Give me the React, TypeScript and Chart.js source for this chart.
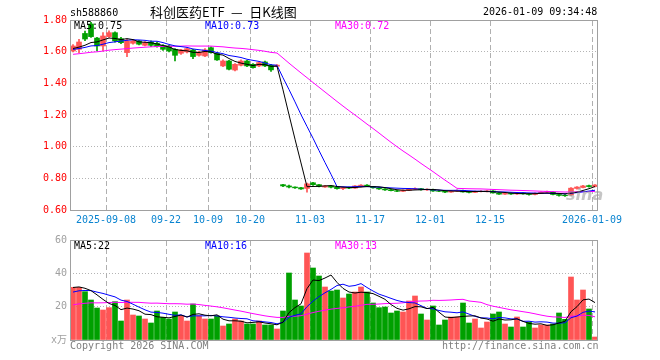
import { useEffect, useRef } from 'react';
import { Chart, registerables } from 'chart.js';
Chart.register(...registerables);

// ---------- data ----------
const dates = [
  '2025-08-29',
  '2025-09-01','2025-09-02','2025-09-03','2025-09-04','2025-09-05',
  '2025-09-08','2025-09-09','2025-09-10','2025-09-11','2025-09-12',
  '2025-09-15','2025-09-16','2025-09-17','2025-09-18','2025-09-19',
  '2025-09-22','2025-09-23','2025-09-24','2025-09-25','2025-09-26',
  '2025-09-29','2025-09-30',
  '2025-10-09','2025-10-10',
  '2025-10-13','2025-10-14','2025-10-15','2025-10-16','2025-10-17',
  '2025-10-20','2025-10-21','2025-10-22','2025-10-23','2025-10-24',
  '2025-10-27','2025-10-28','2025-10-29','2025-10-30','2025-10-31',
  '2025-11-03','2025-11-04','2025-11-05','2025-11-06','2025-11-07',
  '2025-11-10','2025-11-11','2025-11-12','2025-11-13','2025-11-14',
  '2025-11-17','2025-11-18','2025-11-19','2025-11-20','2025-11-21',
  '2025-11-24','2025-11-25','2025-11-26','2025-11-27','2025-11-28',
  '2025-12-01','2025-12-02','2025-12-03','2025-12-04','2025-12-05',
  '2025-12-08','2025-12-09','2025-12-10','2025-12-11','2025-12-12',
  '2025-12-15','2025-12-16','2025-12-17','2025-12-18','2025-12-19',
  '2025-12-22','2025-12-23','2025-12-24','2025-12-25','2025-12-26',
  '2025-12-29','2025-12-30','2025-12-31',
  '2026-01-05','2026-01-06','2026-01-07','2026-01-08','2026-01-09',
];

const tickDates = ['2025-09-08','2025-09-22','2025-10-09','2025-10-20','2025-11-03','2025-11-17','2025-12-01','2025-12-15','2026-01-09'];
const tickTexts = ['2025-09-08','09-22','10-09','10-20','11-03','11-17','12-01','12-15','2026-01-09'];

const openP = [
  1.604,1.615,1.715,1.775,1.686,1.636,1.695,1.720,1.682,1.594,
  1.653,1.668,1.640,1.661,1.653,1.640,1.636,1.615,1.590,1.598,
  1.611,1.577,1.573,1.625,1.590,1.510,1.541,1.484,1.514,1.541,
  1.520,1.510,1.535,1.514,1.508,
  0.760,0.752,0.745,0.741,0.736,0.772,0.760,0.745,0.752,0.744,
  0.735,0.742,0.738,0.750,0.757,0.748,0.740,0.733,0.728,0.722,
  0.718,0.724,0.730,0.735,0.727,0.730,0.720,0.718,0.713,0.719,
  0.724,0.714,0.711,0.716,0.718,0.720,0.708,0.700,0.705,0.701,
  0.708,0.702,0.698,0.705,0.711,0.712,0.698,0.693,0.695,0.736,
  0.742,0.754,0.748,
];
const highP = [
  1.645,1.678,1.730,1.785,1.690,1.720,1.731,1.725,1.690,1.678,
  1.675,1.672,1.663,1.668,1.660,1.645,1.640,1.620,1.615,1.625,
  1.615,1.602,1.620,1.630,1.594,1.548,1.545,1.525,1.548,1.545,
  1.525,1.535,1.540,1.520,1.518,
  0.762,0.757,0.747,0.743,0.770,0.775,0.762,0.756,0.755,0.746,
  0.745,0.745,0.755,0.760,0.760,0.750,0.742,0.735,0.730,0.725,
  0.728,0.735,0.740,0.737,0.734,0.732,0.723,0.720,0.722,0.727,
  0.726,0.716,0.720,0.722,0.724,0.722,0.710,0.708,0.707,0.712,
  0.710,0.704,0.708,0.714,0.719,0.716,0.700,0.697,0.742,0.748,
  0.756,0.758,0.760,
];
const lowP = [
  1.598,1.594,1.670,1.690,1.604,1.604,1.690,1.660,1.650,1.569,
  1.648,1.643,1.636,1.632,1.628,1.608,1.598,1.541,1.583,1.592,
  1.556,1.572,1.568,1.590,1.545,1.505,1.485,1.478,1.510,1.505,
  1.495,1.505,1.505,1.475,1.505,
  0.748,0.740,0.737,0.730,0.713,0.755,0.746,0.742,0.740,0.732,
  0.728,0.735,0.736,0.746,0.748,0.738,0.730,0.724,0.720,0.716,
  0.715,0.722,0.728,0.726,0.724,0.718,0.715,0.710,0.711,0.717,
  0.712,0.708,0.709,0.714,0.714,0.706,0.698,0.698,0.699,0.699,
  0.700,0.694,0.696,0.703,0.709,0.695,0.688,0.686,0.692,0.732,
  0.740,0.744,0.746,
];
const closeP = [
  1.636,1.661,1.680,1.695,1.636,1.699,1.720,1.668,1.657,1.668,
  1.668,1.647,1.657,1.640,1.633,1.615,1.604,1.577,1.611,1.619,
  1.569,1.598,1.611,1.594,1.548,1.541,1.489,1.520,1.541,1.510,
  1.499,1.531,1.510,1.485,1.515,
  0.752,0.745,0.740,0.733,0.765,0.760,0.750,0.752,0.744,0.735,
  0.742,0.738,0.752,0.757,0.750,0.740,0.733,0.727,0.722,0.718,
  0.725,0.732,0.736,0.728,0.731,0.720,0.718,0.713,0.719,0.724,
  0.714,0.711,0.717,0.719,0.721,0.708,0.700,0.705,0.701,0.708,
  0.702,0.698,0.706,0.712,0.716,0.698,0.692,0.690,0.738,0.745,
  0.752,0.748,0.758,
];
const volume = [
  31.6,31.6,29,24,19.2,18,19.4,23,11.4,24,
  15,14.4,12.6,10.2,17.4,13.6,12.6,16.8,14.4,11.4,
  21.6,14.4,12.6,12.6,14.4,8.4,9.6,12.6,11.4,9.6,
  9.6,11.4,9,9,6.6,17.4,40.2,24,20.4,52.2,
  43.2,38.4,31.8,29.4,30,25.2,27.6,28.8,31.8,28.8,
  22.2,19.4,19.8,16.2,17.4,16.8,23.4,26.4,15.6,12,
  20.4,9,12,13.8,13.8,22.2,10.2,12.6,7.2,10.8,
  15.6,16.8,9.6,7.8,13.8,7.8,10.8,7.2,9,9,
  9.6,16.2,12.4,37.8,24,30,18.6,1.8,
];
// sessions before the visible window (needed for the moving averages at the left edge)
const priorClose = [
  1.545,1.550,1.548,1.556,1.560,1.552,1.558,1.565,1.570,1.562,
  1.568,1.575,1.572,1.580,1.585,1.578,1.582,1.575,1.585,1.590,
  1.605,1.610,1.600,1.615,1.612,1.618,1.620,1.610,1.616,
];
const priorVolume = [
  15,18,16,20,17,14,19,16,18,17,
  15,21,17,16,19,18,16,17,18,19,
  24,27,25,28,26,30,33,31,32,
];
const priceMaText = ['MA5:0.75', 'MA10:0.73', 'MA30:0.72'];
const volMaText = ['MA5:22', 'MA10:16', 'MA30:13'];

// ---------- helpers ----------
const UP = '#ff5555';
const DOWN = '#00a000';
const MA_COLORS = ['#000000', '#0000ff', '#ff00ff'];
const MONO = "'DejaVu Sans Mono', monospace";

function movingAvg(prior: number[], vals: number[], n: number) {
  const all = [...prior, ...vals];
  return vals.map((_, i) => {
    const end = prior.length + i;
    let s = 0;
    for (let k = 0; k < n; k++) s += all[end - k];
    return s / n;
  });
}

const tickIndices = tickDates.map((d) => dates.indexOf(d));
const tickLabelByIndex: Record<number, string> = {};
tickDates.forEach((d, k) => { tickLabelByIndex[dates.indexOf(d)] = tickTexts[k]; });

const frame = {
  id: 'frame',
  beforeDatasetsDraw(chart: any) {
    const ctx = chart.ctx as CanvasRenderingContext2D;
    const a = chart.chartArea;
    const xs = chart.scales.x;
    const left = Number(xs.left);
    const slot = (Number(xs.right) - left) / dates.length;
    ctx.save();
    ctx.strokeStyle = '#b0b0b0';
    ctx.lineWidth = 1;
    ctx.setLineDash([5, 3]);
    ctx.beginPath();
    for (let k = 0; k < tickIndices.length; k++) {
      const px = Math.round(left + tickIndices[k] * slot) + 0.5;
      ctx.moveTo(px, a.top + 1);
      ctx.lineTo(px, a.bottom);
    }
    ctx.stroke();
    ctx.restore();
  },
  afterDraw(chart: any) {
    const ctx = chart.ctx as CanvasRenderingContext2D;
    const a = chart.chartArea;
    ctx.save();
    ctx.setLineDash([]);
    ctx.strokeStyle = '#a0a0a0';
    ctx.lineWidth = 1;
    ctx.strokeRect(a.left + 0.5, a.top + 0.5, a.right - a.left - 1, a.bottom - a.top);
    ctx.restore();
  },
};

function xScale(showLabels: boolean) {
  return {
    type: 'category',
    offset: true,
    grid: { display: false, drawTicks: false },
    border: { display: false },
    ticks: {
      display: showLabels,
      autoSkip: false,
      maxRotation: 0,
      minRotation: 0,
      labelOffset: -3,
      padding: 4,
      color: '#0a84d0',
      font: { family: MONO, size: 10 },
      callback: (_v: any, i: number) => tickLabelByIndex[i] ?? '',
    },
    afterFit: (s: any) => { s.height = 20; },
  };
}

export default function App() {
  const mainRef = useRef<HTMLCanvasElement>(null);
  const volRef = useRef<HTMLCanvasElement>(null);

  useEffect(() => {
    const colors = closeP.map((c, i) => (c >= openP[i] ? UP : DOWN));
    const bodies = closeP.map((c, i) => [openP[i], c]);
    const wicks = highP.map((h, i) => [lowP[i], h]);
    const pMa = [5, 10, 30].map((n) => movingAvg(priorClose, closeP, n));
    const vMa = [5, 10, 30].map((n) => movingAvg(priorVolume, volume, n));

    const lineDs = (data: number[], k: number) => ({
      type: 'line',
      data,
      borderColor: MA_COLORS[k],
      borderWidth: 1,
      pointRadius: 0,
      tension: 0,
      fill: false,
      order: 0,
    });

    const main = new Chart(mainRef.current as HTMLCanvasElement, {
      type: 'bar',
      data: {
        labels: dates,
        datasets: [
          { type: 'bar', data: wicks, backgroundColor: colors, barThickness: 1, grouped: false, borderWidth: 0, borderSkipped: false, order: 2 } as any,
          { type: 'bar', data: bodies, backgroundColor: colors, barThickness: 5, grouped: false, borderWidth: 0, borderSkipped: false, order: 1 } as any,
          lineDs(pMa[0], 0) as any,
          lineDs(pMa[1], 1) as any,
          lineDs(pMa[2], 2) as any,
        ],
      },
      options: {
        animation: false,
        responsive: false,
        maintainAspectRatio: false,
        devicePixelRatio: 1,
        layout: { padding: { top: 20, right: 62, bottom: 0, left: 0 } },
        plugins: { legend: { display: false }, tooltip: { enabled: false } },
        scales: {
          x: xScale(true) as any,
          y: {
            min: 0.6,
            max: 1.8,
            grid: { color: '#b4b4b4', drawTicks: false, lineWidth: 1 },
            border: { display: false, dash: [1, 2] },
            ticks: {
              stepSize: 0.2,
              padding: 3,
              color: '#ff0000',
              font: { family: MONO, size: 10 },
              callback: (v: any) => Number(v).toFixed(2),
            },
            afterFit: (s: any) => { s.width = 70; },
          } as any,
        },
      },
      plugins: [frame],
    });

    const vol = new Chart(volRef.current as HTMLCanvasElement, {
      type: 'bar',
      data: {
        labels: dates,
        datasets: [
          { type: 'bar', data: volume, backgroundColor: colors, barThickness: 5, grouped: false, borderWidth: 0, order: 1 } as any,
          lineDs(vMa[0], 0) as any,
          lineDs(vMa[1], 1) as any,
          lineDs(vMa[2], 2) as any,
        ],
      },
      options: {
        animation: false,
        responsive: false,
        maintainAspectRatio: false,
        devicePixelRatio: 1,
        layout: { padding: { top: 10, right: 62, bottom: 0, left: 0 } },
        plugins: { legend: { display: false }, tooltip: { enabled: false } },
        scales: {
          x: xScale(false) as any,
          y: {
            min: 0,
            max: 60,
            grid: { color: '#b4b4b4', drawTicks: false, lineWidth: 1 },
            border: { display: false, dash: [1, 2] },
            ticks: {
              stepSize: 20,
              padding: 3,
              color: '#a0a0a0',
              font: { family: "'DejaVu Sans Mono', 'Noto Sans CJK SC', monospace", size: 10 },
              callback: (v: any) => (Number(v) === 0 ? 'x万' : String(v)),
            },
            afterFit: (s: any) => { s.width = 70; },
          } as any,
        },
      },
      plugins: [frame],
    });

    return () => { main.destroy(); vol.destroy(); };
  }, []);

  const txt = (x: number, y: number, color: string, s: string, extra: any = {}) => (
    <div style={{ position: 'absolute', left: x, top: y, color, fontFamily: MONO, fontSize: 10, lineHeight: '12px', whiteSpace: 'pre', ...extra }}>{s}</div>
  );

  return (
    <div style={{ position: 'fixed', left: 0, top: 0, width: 660, height: 360, background: '#ffffff', overflow: 'hidden' }}>
      <canvas ref={mainRef} width={660} height={230} style={{ position: 'absolute', left: 0, top: 0, width: 660, height: 230 }} />
      <canvas ref={volRef} width={660} height={130} style={{ position: 'absolute', left: 0, top: 230, width: 660, height: 130 }} />
      {txt(70, 7, '#000000', 'sh588860')}
      <div style={{ position: 'absolute', left: 150, top: 4, color: '#000', fontFamily: "'Noto Sans CJK SC', sans-serif", fontSize: 13, lineHeight: '16px', whiteSpace: 'pre' }}>{'科创医药ETF\u2002—\u2002日K线图'}</div>
      {txt(483, 6, '#000000', '2026-01-09 09:34:48')}
      {txt(74, 20, MA_COLORS[0], priceMaText[0])}
      {txt(205, 20, MA_COLORS[1], priceMaText[1])}
      {txt(335, 20, MA_COLORS[2], priceMaText[2])}
      {txt(74, 240, MA_COLORS[0], volMaText[0])}
      {txt(205, 240, MA_COLORS[1], volMaText[1])}
      {txt(335, 240, MA_COLORS[2], volMaText[2])}
      {txt(70, 340, '#808080', 'Copyright 2026 SINA.COM')}
      {txt(442, 340, '#808080', 'http://finance.sina.com.cn')}
      <div style={{ position: 'absolute', left: 566, top: 186, color: 'rgba(150,150,150,0.55)', fontFamily: "'DejaVu Sans', sans-serif", fontStyle: 'italic', fontWeight: 'bold', fontSize: 16, lineHeight: '18px' }}>sina</div>
    </div>
  );
}
